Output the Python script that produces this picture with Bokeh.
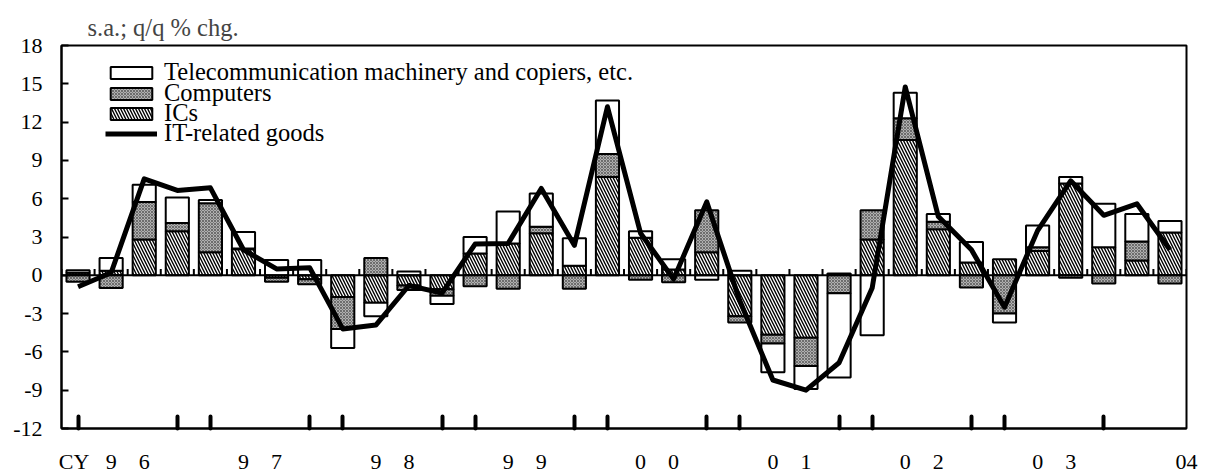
import numpy as np
from bokeh.plotting import figure
from bokeh.models import (FixedTicker, Legend, LegendItem, Span, Range1d)
from bokeh.embed import file_html
from bokeh.resources import INLINE

# ---------------- data ----------------
quarters = ["1996Q1", "1996Q2", "1996Q3", "1996Q4", "1997Q1", "1997Q2", "1997Q3", "1997Q4",
            "1998Q1", "1998Q2", "1998Q3", "1998Q4", "1999Q1", "1999Q2", "1999Q3", "1999Q4",
            "2000Q1", "2000Q2", "2000Q3", "2000Q4", "2001Q1", "2001Q2", "2001Q3", "2001Q4",
            "2002Q1", "2002Q2", "2002Q3", "2002Q4", "2003Q1", "2003Q2", "2003Q3", "2003Q4",
            "2004Q1", "2004Q2"]

ics = [0.2, 0.35, 2.8, 3.45, 1.8, 2.05, -0.2, -0.3, -1.7, -2.15, -0.8, -1.1,
       1.7, 2.5, 3.3, 0.75, 7.7, 2.95, 0.45, 1.8, -3.2, -4.65, -4.9, 0.15,
       2.8, 10.6, 3.6, 1.0, 1.25, 1.9, 7.2, 2.2, 1.15, 3.35]
computers = [-0.5, -1.0, 2.95, 0.65, 3.85, 0.05, -0.3, -0.4, -2.5, 1.35, -0.35, -0.5,
             -0.85, -1.05, 0.5, -1.05, 1.8, -0.35, -0.55, 3.3, -0.5, -0.7, -2.2, -1.4,
             2.3, 1.7, 0.6, -0.95, -3.0, 0.3, -0.2, -0.65, 1.5, -0.65]
telecom = [0.2, 1.0, 1.35, 2.0, 0.25, 1.3, 1.2, 1.2, -1.5, -1.05, 0.3, -0.65,
           1.3, 2.5, 2.6, 2.15, 4.2, 0.5, 0.8, -0.35, 0.35, -2.25, -1.8, -6.6,
           -4.7, 2.0, 0.6, 1.6, -0.7, 1.7, 0.5, 3.4, 2.15, 0.9]
it_goods = [-0.9, 0.2, 7.55, 6.65, 6.85, 2.0, 0.5, 0.6, -4.2, -3.9, -0.8, -1.4,
            2.45, 2.5, 6.8, 2.35, 13.2, 3.3, -0.3, 5.75, -2.0, -8.2, -9.0, -6.85,
            -1.0, 14.75, 4.6, 2.0, -2.5, 3.5, 7.4, 4.7, 5.6, 2.0]

y_ticks = [-12, -9, -6, -3, 0, 3, 6, 9, 12, 15, 18]
y_tick_labels = ["-12", "-9", "-6", "-3", "0", "3", "6", "9", "12", "15", "18"]

# bottom-axis year labels (text, position in quarter slots)
year_labels = ["CY", "9\u20036", "9\u20037", "9\u20038", "9\u20039", "0\u20030", "0\u20031", "0\u20032", "0\u20033", "04"]
year_label_pos = [0.38, 2, 6, 10, 14, 18, 22, 26, 30, 34]
# quarters carrying a tick on the bottom axis (Q1 and Q4)
tick_quarters = [q for q in quarters if q.endswith("Q1") or q.endswith("Q4")][:-1]

series_names = ["ICs", "Computers", "Telecommunication machinery and copiers, etc.", "IT-related goods"]

# ---------------- stacking ----------------
n = len(quarters)
x = np.arange(n) + 0.5
pos = np.zeros(n)
neg = np.zeros(n)
stack = {}
for key, vals in [("ics", ics), ("comp", computers), ("tel", telecom)]:
    v = np.array(vals, dtype=float)
    bottom = np.where(v >= 0, pos, neg)
    top = bottom + v
    pos = np.where(v >= 0, top, pos)
    neg = np.where(v < 0, top, neg)
    stack[key] = (bottom, top)

FONT = "Liberation Serif"

p = figure(width=1206, height=476, x_range=Range1d(0, n), y_range=Range1d(-12, 18),
           output_backend="svg", toolbar_location=None,
           min_border_left=61, min_border_right=20, min_border_top=45, min_border_bottom=48)
p.xgrid.visible = False
p.ygrid.visible = False
p.background_fill_color = "white"
p.border_fill_color = "white"
p.outline_line_color = "black"
p.outline_line_width = 2
p.outline_line_alpha = 1

p.title.text = "s.a.; q/q % chg."
p.title.text_font = FONT
p.title.text_font_size = "24.5px"
p.title.text_font_style = "normal"
p.title.align = "left"
p.title.offset = 26
p.title.standoff = 10

common = dict(width=0.7, line_color="black", line_width=2)
r_ics = p.vbar(x=x, bottom=stack["ics"][0], top=stack["ics"][1], fill_color="white",
               hatch_pattern="\\", hatch_color="black", hatch_weight=1.4, hatch_scale=6, **common)
r_comp = p.vbar(x=x, bottom=stack["comp"][0], top=stack["comp"][1], fill_color="#b0b0b0",
                hatch_pattern="x", hatch_color="#404040", hatch_weight=0.6, hatch_scale=3, **common)
r_tel = p.vbar(x=x, bottom=stack["tel"][0], top=stack["tel"][1], fill_color="white", **common)

# zero line with small ticks at category boundaries
p.add_layout(Span(location=0, dimension="width", line_color="black", line_width=2))
bounds = np.arange(n + 1)
p.segment(x0=bounds, y0=np.zeros(n + 1), x1=bounds, y1=np.full(n + 1, 0.5),
          line_color="black", line_width=2)

r_line = p.line(x=x, y=it_goods, line_color="black", line_width=5, line_join="round")

# axes
xa = p.xaxis[0]
qidx = [quarters.index(q) + 0.5 for q in tick_quarters]
xa.ticker = FixedTicker(ticks=year_label_pos, minor_ticks=qidx)
xa.major_label_overrides = {pp: t for pp, t in zip(year_label_pos, year_labels)}
xa.major_tick_in = 0
xa.major_tick_out = 0
xa.minor_tick_in = 12
xa.minor_tick_out = 0
xa.minor_tick_line_width = 4
xa.minor_tick_line_cap = "round"
xa.axis_line_width = 2
xa.major_label_text_font = FONT
xa.major_label_text_font_size = "22px"
xa.major_label_standoff = 20
xa.major_label_text_color = "black"

ya = p.yaxis[0]
ya.ticker = FixedTicker(ticks=y_ticks, minor_ticks=[])
ya.major_label_overrides = {t: s for t, s in zip(y_ticks, y_tick_labels)}
ya.major_tick_in = 7
ya.major_tick_out = 0
ya.major_tick_line_width = 2
ya.axis_line_width = 2
ya.major_label_text_font = FONT
ya.major_label_text_font_size = "22px"
ya.major_label_standoff = 19
ya.major_label_text_color = "black"

# legend: one single-item legend per entry so the rows can sit tightly
legend_rows = [(series_names[2], r_tel, 342), (series_names[1], r_comp, 321),
               (series_names[0], r_ics, 301), (series_names[3], r_line, 281)]
for label, rend, ypos in legend_rows:
    lg = Legend(items=[LegendItem(label=label, renderers=[rend])], location=(44, ypos))
    lg.glyph_width = 52
    lg.glyph_height = 15
    lg.label_height = 20
    lg.label_standoff = 7
    lg.spacing = 0
    lg.padding = 0
    lg.margin = 0
    lg.background_fill_alpha = 0
    lg.border_line_alpha = 0
    lg.label_text_font = FONT
    lg.label_text_font_size = "24.5px"
    lg.label_text_color = "black"
    p.add_layout(lg)

open("out.html", "w").write(file_html(p, INLINE))
